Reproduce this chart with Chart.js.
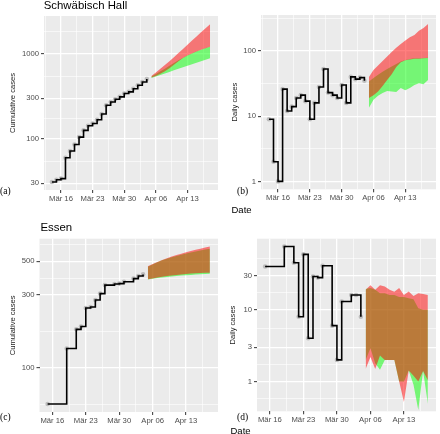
<!DOCTYPE html>
<html>
<head>
<meta charset="utf-8">
<script src="https://cdn.jsdelivr.net/npm/chart.js@4.4.1/dist/chart.umd.min.js"></script>
<style>
body { margin: 0; background: #fff; }
#wrap { position: relative; width: 440px; height: 434px; overflow: hidden; font-family: "Liberation Sans", Arial, sans-serif; }
canvas { position: absolute; }
.t { position: absolute; line-height: 1; white-space: nowrap; color: #000; }
.lab { font-family: "Liberation Serif", "DejaVu Serif", serif; font-size: 9.5px; }
</style>
</head>
<body>
<div id="wrap">
  <canvas id="cA" width="222" height="204" style="left:0;top:0"></canvas>
  <canvas id="cB" width="220" height="204" style="left:220px;top:0"></canvas>
  <canvas id="cC" width="222" height="217" style="left:0;top:217px"></canvas>
  <canvas id="cD" width="220" height="217" style="left:220px;top:217px"></canvas>

  <div class="t" style="left:43.7px;top:-0.4px;font-size:11.4px">Schwäbisch Hall</div>
  <div class="t" style="left:40.5px;top:222.3px;font-size:11.4px">Essen</div>
  <div class="t lab" style="left:0;top:187.4px">(a)</div>
  <div class="t lab" style="left:237px;top:187.1px">(b)</div>
  <div class="t lab" style="left:0;top:413.1px">(c)</div>
  <div class="t lab" style="left:237px;top:413.1px">(d)</div>
  <div class="t" style="left:231.5px;top:205.3px;font-size:9.5px">Date</div>
  <div class="t" style="left:230.5px;top:425.5px;font-size:9.5px">Date</div>
</div>
<script>
// x axis
const baseDate = '2020-03-16';
const tickDates = ['2020-03-16', '2020-03-23', '2020-03-30', '2020-04-06', '2020-04-13'];
const tickLabels = ['Mär 16', 'Mär 23', 'Mär 30', 'Apr 06', 'Apr 13'];

// forecast days
const fcDates = ['2020-04-05', '2020-04-06', '2020-04-07', '2020-04-08', '2020-04-09', '2020-04-10', '2020-04-11',
                 '2020-04-12', '2020-04-13', '2020-04-14', '2020-04-15', '2020-04-16', '2020-04-17', '2020-04-18'];

// Schwäbisch Hall
const shDates = ['2020-03-14', '2020-03-15', '2020-03-16', '2020-03-17', '2020-03-18', '2020-03-19', '2020-03-20', '2020-03-21',
                 '2020-03-22', '2020-03-23', '2020-03-24', '2020-03-25', '2020-03-26', '2020-03-27', '2020-03-28', '2020-03-29',
                 '2020-03-30', '2020-03-31', '2020-04-01', '2020-04-02', '2020-04-03', '2020-04-04'];
const shCum = [31, 33, 34, 60, 72, 86, 105, 126, 143, 152, 168, 196, 249, 272, 293, 312, 342, 358, 390, 428, 468, 506];
const shDaily = [9, 2, 1, 26, 12, 14, 19, 21, 17, 9, 16, 28, 53, 23, 21, 19, 30, 16, 40, 37, 39, 35];

const shCumRedHi = [550, 605, 668, 740, 822, 915, 1025, 1145, 1285, 1440, 1610, 1800, 2010, 2240];
const shCumRedLo = [528, 552, 583, 625, 680, 745, 820, 895, 960, 1015, 1070, 1120, 1170, 1215];
const shCumGreenHi = [543, 581, 624, 672, 725, 783, 846, 905, 965, 1020, 1075, 1125, 1175, 1220];
const shCumGreenLo = [522, 543, 566, 590, 615, 642, 670, 698, 728, 758, 790, 823, 857, 890];

const shDayRedHi = [40, 51, 60, 70, 82, 96, 112, 128, 145, 162, 175, 205, 225, 260];
const shDayRedLo = [19, 21, 24, 29, 36, 44, 57, 67, 72, 74, 76, 76, 77, 78];
const shDayGreenHi = [34, 38.5, 43, 48, 53, 58, 63, 69, 73, 75, 77, 77, 78, 79];
const shDayGreenLo = [13.5, 17.8, 20.5, 22.7, 24.4, 24, 23.5, 27, 25, 27, 30, 32, 31, 36];

// Essen
const esDates = ['2020-03-15', '2020-03-19', '2020-03-21', '2020-03-22', '2020-03-23', '2020-03-24', '2020-03-25', '2020-03-26',
                 '2020-03-27', '2020-03-29', '2020-03-30', '2020-03-31', '2020-04-02', '2020-04-03', '2020-04-04'];
const esCum = [58, 134, 179, 187, 247, 251, 279, 307, 349, 355, 357, 367, 385, 400, 410];
const esDaily = [40, 76, 45, 8, 59, 4, 29, 28, 41, 6, 2, 13, 16, 16, 8];

const esCumRedHi = [463, 479, 495, 510, 524, 537, 550, 561, 573, 584, 595, 605, 615, 625];
const esCumRedLo = [381, 386, 391, 396, 400, 404, 407, 410, 413, 415, 417, 419, 420, 421];
const esCumGreenHi = [461, 477, 492, 507, 520, 532, 542, 552, 562, 571, 580, 589, 597, 605];
const esCumGreenLo = [380, 384, 388, 392, 395, 398, 401, 403, 405, 407, 409, 411, 413, 414];

const esDayRedHi = [19, 22, 19, 22, 21, 19, 17.8, 20, 16, 18, 15.5, 17, 16.5, 16];
const esDayRedLo = [1.5, 2.2, 1.5, 2.3, 2, 2, 2, 1.0, 0.52, 1.43, 1.2, 1.0, 1.4, 1.04];
const esDayGreenHi = [19.5, 20, 19, 17, 17, 16, 16, 15, 15, 14.4, 14, 10.5, 10, 10];
const esDayGreenLo = [2.0, 2.9, 1.8, 1.46, 2.0, 2.0, 2.0, 1.0, 1.0, 1.43, 0.9, 0.4, 1.4, 0.49];

// y axis breaks
const cumTicksSH = [30, 100, 300, 1000];
const dayTicksSH = [1, 10, 100];
const cumTicksES = [100, 300, 500];
const dayTicksES = [1, 3, 10, 30];

Chart.defaults.font.family = '"Liberation Sans", Arial, sans-serif';

function dayOf(s) {
  return (Date.parse(s) - Date.parse(baseDate)) / 864e5;
}
function pts(dates, vals) {
  return dates.map((d, i) => ({ x: dayOf(d), y: vals[i] }));
}
// ggplot style minor breaks, midway between majors in log space
function logMinor(m) {
  const L = m.map(Math.log10);
  const ext = [2 * L[0] - L[1], ...L, 2 * L[L.length - 1] - L[L.length - 2]];
  const out = [];
  for (let i = 0; i < ext.length - 1; i++) out.push(Math.pow(10, (ext[i] + ext[i + 1]) / 2));
  return out;
}

const panelBg = {
  id: 'panelBg',
  beforeDraw(chart) {
    const { ctx, chartArea: a } = chart;
    ctx.save();
    ctx.fillStyle = '#ebebeb';
    ctx.fillRect(a.left, a.top, a.right - a.left, a.bottom - a.top);
    ctx.restore();
  }
};

function makePanel(id, p) {
  const xMajor = tickDates.map(dayOf);
  const step = xMajor[1] - xMajor[0];
  const xMinor = [xMajor[0] - step / 2, ...xMajor.map(v => v + step / 2)];
  const yMinor = logMinor(p.yTicks);
  const near = (list, v) => list.some(m => Math.abs(m - v) < 1e-6 * Math.max(1, Math.abs(m)));

  const line = (data, extra) => Object.assign({
    data, borderColor: 'transparent', borderWidth: 0, pointRadius: 0, fill: false, tension: 0
  }, extra);

  new Chart(document.getElementById(id), {
    type: 'line',
    data: {
      datasets: [
        line(pts(p.dates, p.obs), { borderColor: '#000', borderWidth: 1.6, stepped: 'before' }),
        line(pts(p.dates, p.obs), { showLine: false, pointRadius: 2.3, pointBackgroundColor: '#bdbdbd', pointBorderWidth: 0 }),
        line(pts(fcDates, p.redLo)),
        line(pts(fcDates, p.redHi), { fill: '-1', backgroundColor: 'rgba(255,0,0,0.5)' }),
        line(pts(fcDates, p.greenLo)),
        line(pts(fcDates, p.greenHi), { fill: '-1', backgroundColor: 'rgba(0,255,0,0.5)' })
      ]
    },
    options: {
      responsive: false,
      animation: false,
      events: [],
      layout: { padding: { left: 0, top: p.padTop, right: p.padRight || 0, bottom: 0 } },
      plugins: { legend: { display: false }, tooltip: { enabled: false } },
      scales: {
        x: {
          type: 'linear',
          min: p.xMin, max: p.xMax,
          afterBuildTicks: s => {
            s.ticks = [...xMinor, ...xMajor].filter(v => v >= p.xMin && v <= p.xMax)
              .sort((a, b) => a - b).map(v => ({ value: v }));
          },
          afterFit: s => { s.height = p.xH; },
          ticks: {
            autoSkip: false, maxRotation: 0, padding: 1,
            color: '#4d4d4d', font: { size: 7.7 },
            callback: v => { const i = xMajor.indexOf(v); return i >= 0 ? tickLabels[i] : ''; }
          },
          grid: {
            color: '#ffffff',
            lineWidth: c => (c.tick && near(xMajor, c.tick.value)) ? 1.3 : 0.6,
            tickColor: c => (c.tick && near(xMajor, c.tick.value)) ? '#333333' : 'rgba(0,0,0,0)',
            tickLength: 3, tickWidth: 1
          },
          border: { display: false }
        },
        y: {
          type: 'logarithmic',
          min: p.yMin, max: p.yMax,
          afterBuildTicks: s => {
            s.ticks = [...yMinor, ...p.yTicks].filter(v => v >= p.yMin && v <= p.yMax)
              .sort((a, b) => a - b).map(v => ({ value: v }));
          },
          afterFit: s => { s.width = p.yW; },
          ticks: {
            padding: 2, color: '#4d4d4d', font: { size: 7.7 },
            callback: v => near(p.yTicks, v) ? String(v) : ''
          },
          grid: {
            color: '#ffffff',
            lineWidth: c => (c.tick && near(p.yTicks, c.tick.value)) ? 1.3 : 0.6,
            tickColor: c => (c.tick && near(p.yTicks, c.tick.value)) ? '#333333' : 'rgba(0,0,0,0)',
            tickLength: 3, tickWidth: 1
          },
          border: { display: false },
          title: {
            display: true, text: p.yTitle, color: '#1a1a1a',
            font: { size: 7.6 }, padding: { top: p.titlePad, bottom: 0 }
          }
        }
      }
    },
    plugins: [panelBg]
  });
}

makePanel('cA', {
  dates: shDates, obs: shCum,
  redHi: shCumRedHi, redLo: shCumRedLo, greenHi: shCumGreenHi, greenLo: shCumGreenLo,
  xMin: -3.75, xMax: 34.75, yMin: 25, yMax: 2800, yTicks: cumTicksSH,
  yTitle: 'Cumulative cases', padTop: 16, yW: 44, xH: 14, titlePad: 8.8
});
makePanel('cB', {
  dates: shDates, obs: shDaily,
  redHi: shDayRedHi, redLo: shDayRedLo, greenHi: shDayGreenHi, greenLo: shDayGreenLo,
  xMin: -3.75, xMax: 34.75, yMin: 0.757, yMax: 356, yTicks: dayTicksSH,
  yTitle: 'Daily cases', padTop: 15, yW: 41, xH: 14.7, titlePad: 10.5
});
makePanel('cC', {
  dates: esDates, obs: esCum,
  redHi: esCumRedHi, redLo: esCumRedLo, greenHi: esCumGreenHi, greenLo: esCumGreenLo,
  xMin: -2.7, xMax: 34.7, yMin: 51.4, yMax: 703, yTicks: cumTicksES,
  yTitle: 'Cumulative cases', padTop: 21.7, yW: 39.5, xH: 22, titlePad: 8.2
});
makePanel('cD', {
  dates: esDates, obs: esDaily,
  redHi: esDayRedHi, redLo: esDayRedLo, greenHi: esDayGreenHi, greenLo: esDayGreenLo,
  xMin: -2.7, xMax: 34.7, yMin: 0.385, yMax: 97.5, yTicks: dayTicksES,
  yTitle: 'Daily cases', padTop: 21.7, padRight: 1.4, yW: 37, xH: 22.7, titlePad: 8.8
});
</script>
</body>
</html>
